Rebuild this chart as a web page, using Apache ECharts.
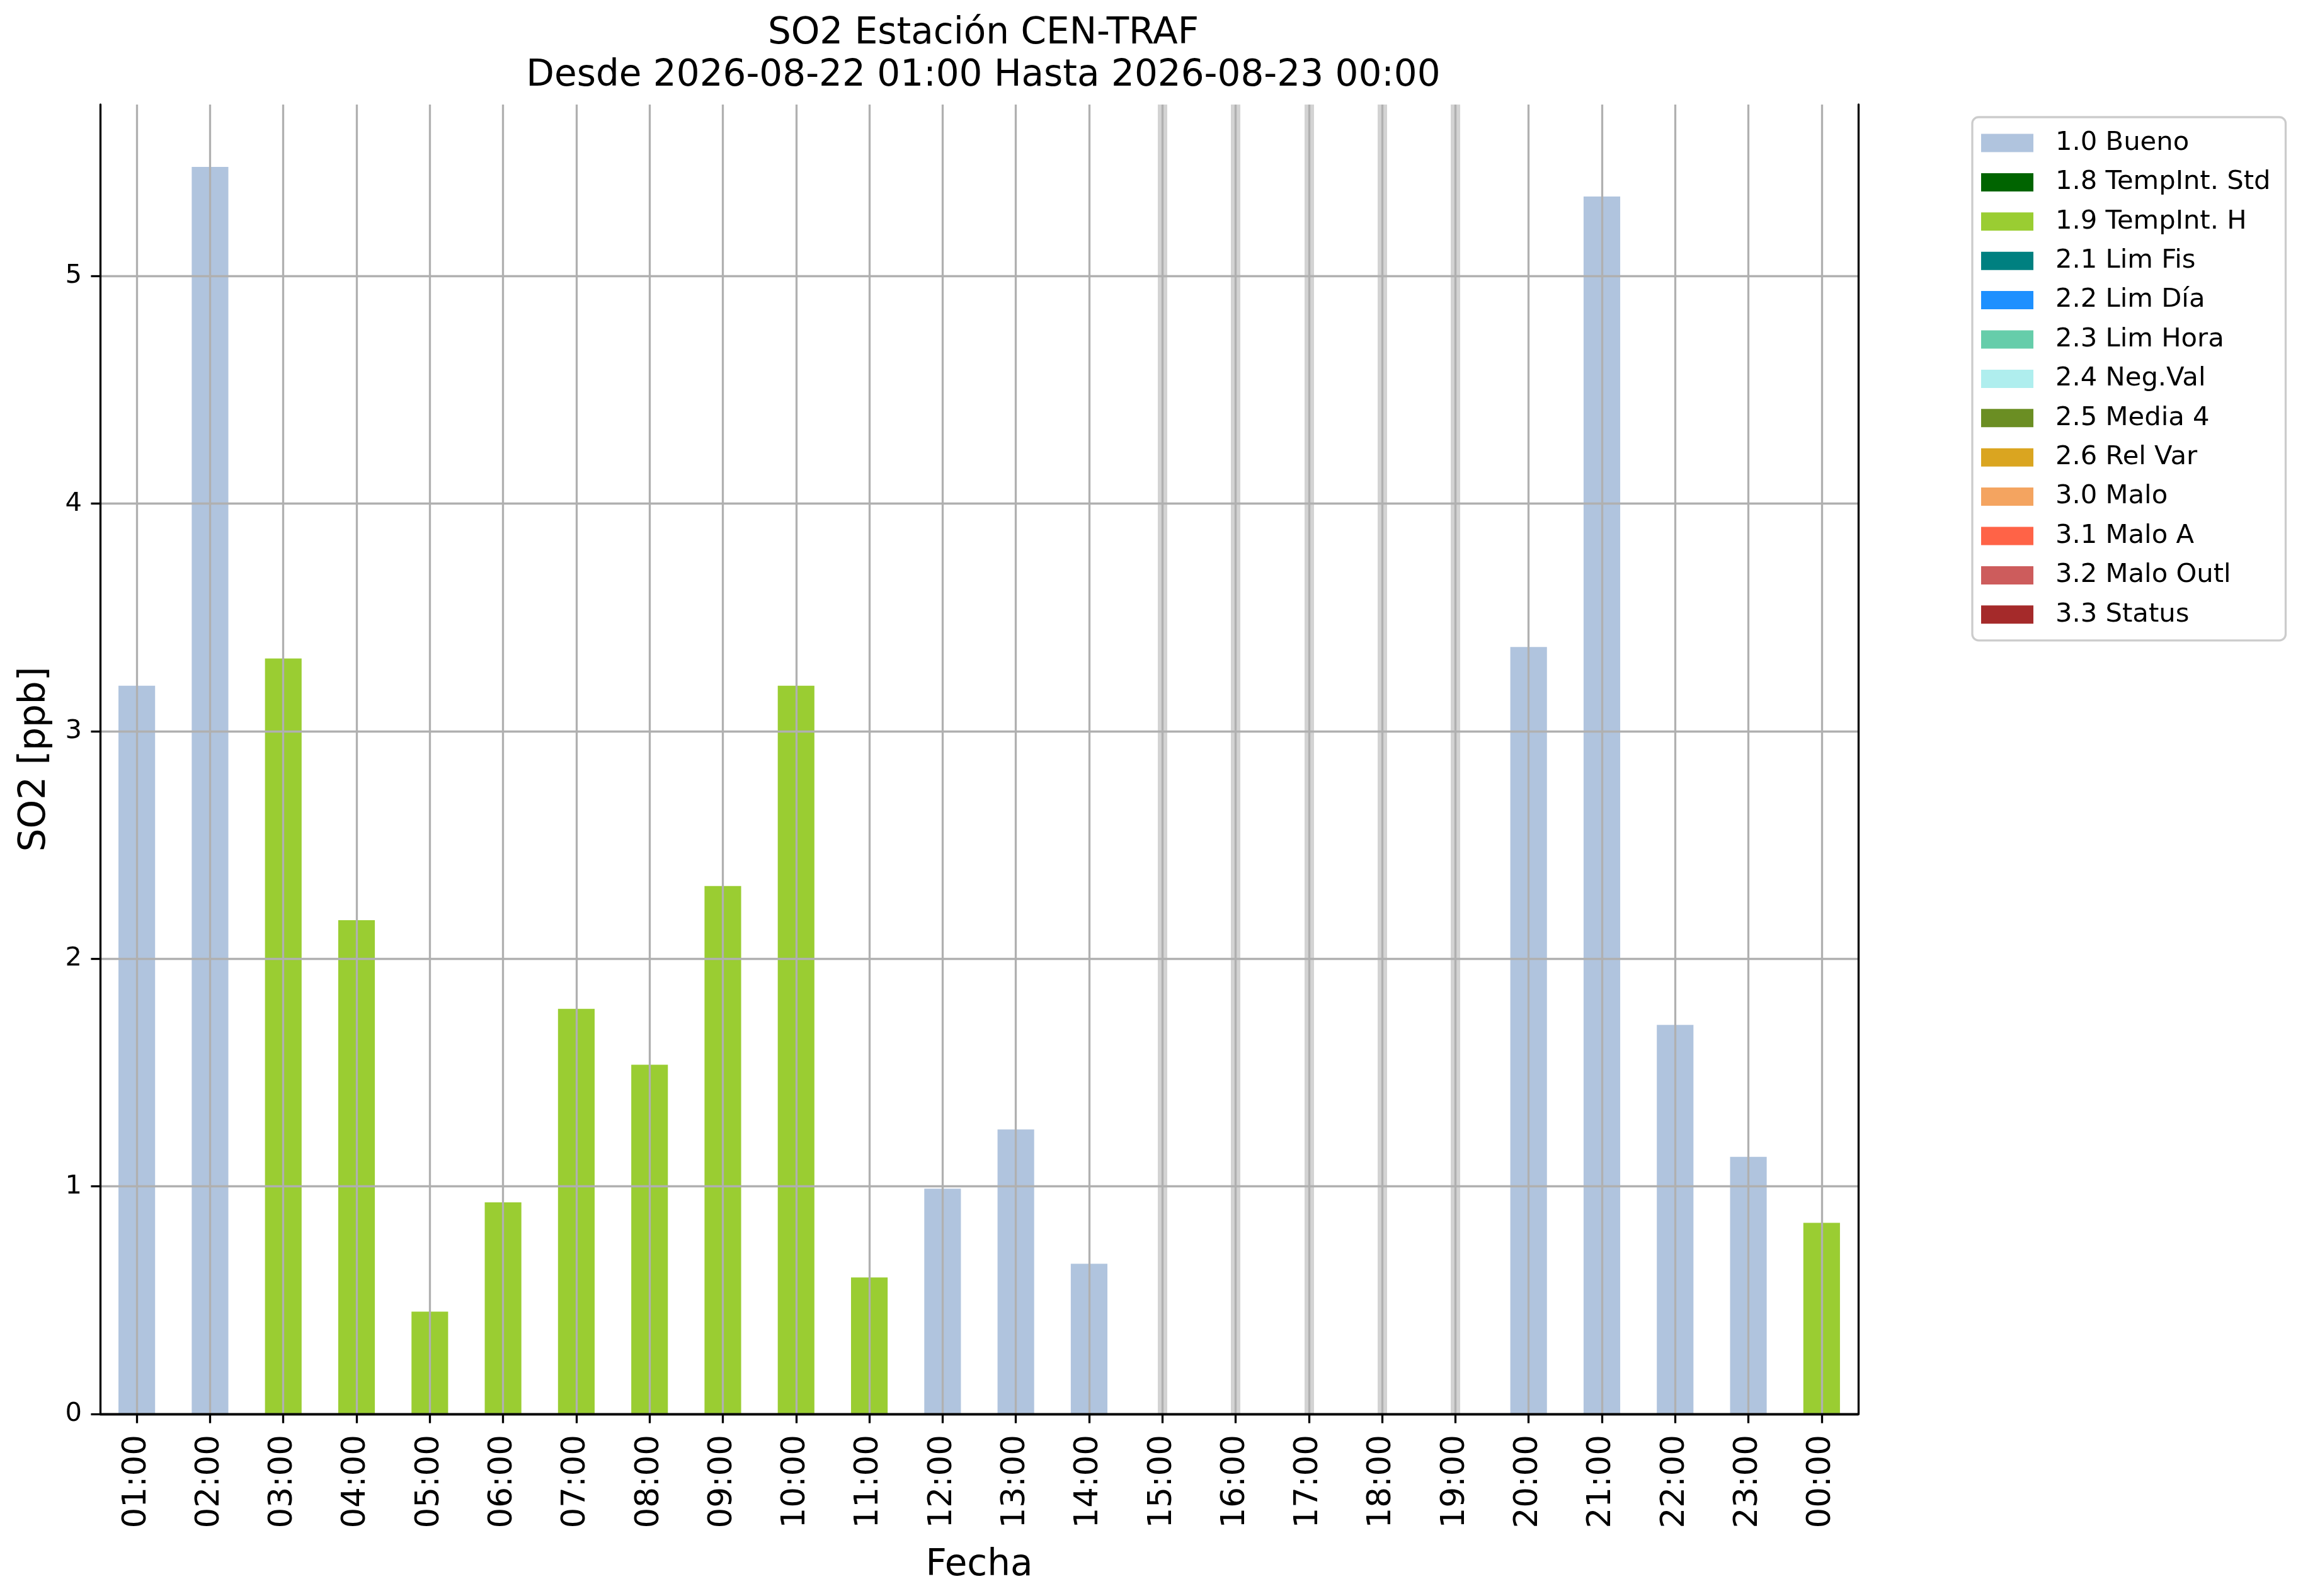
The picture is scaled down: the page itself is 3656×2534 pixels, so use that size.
<!DOCTYPE html>
<html>
<head>
<meta charset="utf-8">
<script src="https://cdn.jsdelivr.net/npm/echarts@6/dist/echarts.min.js"></script>
<style>
html,body{margin:0;padding:0;background:#fff;}
#c{width:3656px;height:2534px;}
</style>
</head>
<body>
<div id="c"></div>
<script>
// ---- data ----
const hours = ['01:00','02:00','03:00','04:00','05:00','06:00','07:00','08:00','09:00','10:00','11:00','12:00',
               '13:00','14:00','15:00','16:00','17:00','18:00','19:00','20:00','21:00','22:00','23:00','00:00'];
const so2 = [3.20, 5.48, 3.32, 2.17, 0.45, 0.93, 1.78, 1.535, 2.32, 3.20, 0.60, 0.99,
             1.25, 0.66, null, null, null, null, null, 3.37, 5.35, 1.71, 1.13, 0.84];
const flags = ['1.0','1.0','1.9','1.9','1.9','1.9','1.9','1.9','1.9','1.9','1.9','1.0',
               '1.0','1.0',null,null,null,null,null,'1.0','1.0','1.0','1.0','1.9'];
const flagCodes = ['1.0','1.8','1.9','2.1','2.2','2.3','2.4','2.5','2.6','3.0','3.1','3.2','3.3'];
const flagNames = ['1.0 Bueno','1.8 TempInt. Std','1.9 TempInt. H','2.1 Lim Fis','2.2 Lim Día','2.3 Lim Hora',
                   '2.4 Neg.Val','2.5 Media 4','2.6 Rel Var','3.0 Malo','3.1 Malo A','3.2 Malo Outl','3.3 Status'];
const flagColors = ['#b0c4de','#006400','#9acd32','#008080','#1e90ff','#66cdaa','#afeeee','#6b8e23',
                    '#daa520','#f4a460','#ff6347','#cd5c5c','#a52a2a'];
const yTicks = [0,1,2,3,4,5];
const yMax = 5.754;
const titleLines = ['SO2 Estación CEN-TRAF','Desde 2026-08-22 01:00 Hasta 2026-08-23 00:00'];

// ---- chart ----
const FONT = '"DejaVu Sans", sans-serif';
const LW = 3.3;
const chart = echarts.init(document.getElementById('c'), null, {renderer:'canvas'});

const missing = hours.filter((h,i) => so2[i] === null);

const series = flagNames.map((name,k) => ({
  name: name,
  type: 'bar',
  stack: 'q',
  barWidth: '50%',
  z: 2,
  silent: true,
  itemStyle: {color: flagColors[k]},
  data: so2.map((v,i) => (flags[i] === flagCodes[k] && v !== null) ? v : null),
  markLine: k === 0 ? {
    silent: true,
    z: 1,
    symbol: ['none','none'],
    label: {show:false},
    lineStyle: {color:'#d3d3d3', width:15, type:'solid'},
    emphasis: {disabled:true},
    animation: false,
    data: missing.map(h => ({xAxis: h}))
  } : undefined
}));

const option = {
  animation: false,
  backgroundColor: '#ffffff',
  textStyle: {fontFamily: FONT},
  grid: {left:159, top:166, right:706, bottom:289, containLabel:false},
  graphic: [
    {type:'text', x:1561, y:54, style:{text:titleLines[0], x:0, y:0, textAlign:'center', textVerticalAlign:'middle', font:'58px "DejaVu Sans"', fill:'#000'}},
    {type:'text', x:1561, y:121, style:{text:titleLines[1], x:0, y:0, textAlign:'center', textVerticalAlign:'middle', font:'58px "DejaVu Sans"', fill:'#000'}}
  ],
  legend: {
    orient: 'vertical',
    left: 3131,
    top: 186,
    padding: [20, 24, 20, 14],
    itemWidth: 83,
    itemHeight: 29,
    itemGap: 20.4,
    icon: 'rect',
    borderColor: '#cccccc',
    borderWidth: 3.3,
    borderRadius: 10,
    backgroundColor: '#ffffff',
    selectedMode: false,
    textStyle: {fontFamily: FONT, fontSize: 41.7, color:'#000', padding:[0,0,0,30]},
    data: flagNames
  },
  xAxis: [{
    type: 'category',
    data: hours,
    z: 8,
    boundaryGap: true,
    axisLine: {show:true, onZero:false, lineStyle:{color:'#000', width:LW}},
    axisTick: {show:true, alignWithLabel:true, length:14.6, lineStyle:{color:'#000', width:LW}},
    axisLabel: {rotate:90, margin:33, fontSize:51.5, color:'#000', fontFamily:FONT, interval:0},
    splitLine: {show:true, alignWithLabel:true, lineStyle:{color:'#b0b0b0', width:LW}},
    name: 'Fecha',
    nameLocation: 'middle',
    nameGap: 212,
    nameTextStyle: {fontSize:58, color:'#000', fontFamily:FONT}
  },{
    type: 'category',
    data: hours,
    position: 'top',
    z: 8,
    axisLine: {show:true, lineStyle:{color:'#000', width:LW}},
    axisTick: {show:false},
    axisLabel: {show:false},
    splitLine: {show:false}
  }],
  yAxis: [{
    type: 'value',
    min: 0,
    max: yMax,
    interval: 1,
    z: 8,
    axisLine: {show:true, lineStyle:{color:'#000', width:LW}},
    axisTick: {show:true, length:14.6, lineStyle:{color:'#000', width:LW}, customValues: yTicks},
    axisLabel: {margin:29, fontSize:41.7, color:'#000', fontFamily:FONT, customValues: yTicks},
    splitLine: {show:true, lineStyle:{color:'#b0b0b0', width:LW}},
    name: 'SO2 [ppb]',
    nameLocation: 'middle',
    nameRotate: 90,
    nameGap: 74,
    nameTextStyle: {fontSize:58, color:'#000', fontFamily:FONT}
  },{
    type: 'value',
    min: 0,
    max: yMax,
    position: 'right',
    z: 8,
    axisLine: {show:true, lineStyle:{color:'#000', width:LW}},
    axisTick: {show:false},
    axisLabel: {show:false},
    splitLine: {show:false}
  }],
  series: series
};
chart.setOption(option);
</script>
</body>
</html>
